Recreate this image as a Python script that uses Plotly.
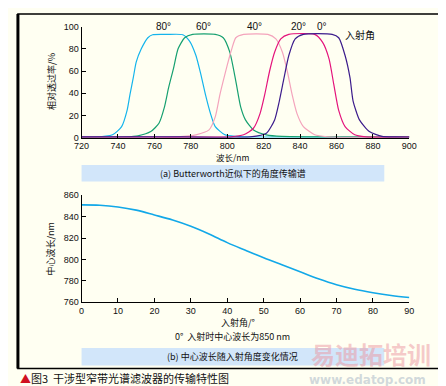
import plotly.graph_objects as go

W, H = 446, 386

# ---- top chart data (wavelength nm, transmission %) ----
wl_80 = [720, 726, 737, 742, 745, 746.6, 748.4, 750, 752.8, 756.4, 759, 767, 775.6, 779.3, 782.8, 785.5, 788, 790.8, 793.4, 798.7, 805, 815, 900]
t_80 = [0.3, 0.3, 2.6, 10, 24.6, 39, 54, 68, 80, 90, 92.7, 93, 92.7, 87, 74, 57, 39, 21.7, 10, 2.6, 1.2, 0.6, 0.4]

wl_60 = [720, 735, 744, 751, 758, 762.5, 765.5, 767.8, 770.5, 773, 776.6, 781, 793.4, 797.8, 801.4, 804.7, 807.4, 810, 814.4, 821.5, 830, 900]
t_60 = [0.2, 0.2, 0.6, 1.7, 5.5, 13, 27.5, 45, 62.5, 80, 90, 93, 93, 90, 77, 51, 27.5, 16, 7, 2.6, 1.2, 0.8]

wl_40 = [720, 770, 782.8, 790, 793.4, 796, 798.7, 801.4, 802.5, 804.7, 809, 822.3, 826.7, 830.3, 833, 835.6, 838.3, 841.8, 848, 855, 900]
t_40 = [0.4, 0.5, 2.6, 7, 18.7, 39, 57, 74, 80, 90, 93, 93, 89, 77, 59.6, 39, 21.7, 10, 2.6, 0.8, 0.4]

wl_20 = [720, 760, 802, 809, 814.4, 818, 820.6, 823.2, 826, 829.4, 833.8, 848, 852.3, 855.9, 858.5, 861.2, 864.7, 870, 876, 900]
t_20 = [0.6, 0.6, 0.8, 2.6, 8.5, 21.7, 39, 59.6, 77, 89, 93, 93, 86, 71, 48, 24.6, 10, 2.6, 0.8, 0.6]

wl_0 = [720, 775, 812.6, 821.5, 826, 828.6, 831.2, 833.8, 837.3, 841.8, 857.6, 861.2, 864.7, 867.4, 869.1, 872.6, 878, 885, 892, 900]
t_0 = [0.7, 0.7, 0.8, 4, 16, 33, 54, 74, 89, 93, 93, 90, 74, 54, 33, 16, 5.5, 1.2, 0.7, 0.6]

# ---- bottom chart data (incidence angle deg, centre wavelength nm) ----
angle = [0, 5, 10, 15, 20, 25, 30, 35, 40, 45, 50, 55, 60, 65, 70, 75, 80, 85, 90]
center_wl = [850.9, 850.6, 849, 846, 841.5, 836.8, 831, 823.8, 815.7, 808.5, 801.5, 795, 788.5, 782, 776.4, 772.2, 769, 766.4, 764.5]

top_xticks = [720, 740, 760, 780, 800, 820, 840, 860, 880, 900]
top_yticks = [0, 20, 40, 60, 80, 100]
bot_xticks = [0, 10, 20, 30, 40, 50, 60, 70, 80, 90]
bot_yticks = [760, 780, 800, 820, 840, 860]

angle_labels = ["80°", "60°", "40°", "20°", "0°"]
angle_label_x = [765, 787, 815, 839, 852]

def px(x):
    return x / W

def py(y):
    return 1 - y / H

fig = go.Figure()
series = [(wl_80, t_80, "#14b4ec"), (wl_60, t_60, "#16a070"), (wl_40, t_40, "#f4a4bc"),
          (wl_20, t_20, "#e4147c"), (wl_0, t_0, "#3c1c8c")]
for xs, ys, c in series:
    fig.add_trace(go.Scatter(x=xs, y=ys, mode="lines", line=dict(color=c, width=1.2, shape="spline", smoothing=0.6),
                             xaxis="x", yaxis="y", showlegend=False, hoverinfo="skip"))
fig.add_trace(go.Scatter(x=angle, y=center_wl, mode="lines", line=dict(color="#12a8e8", width=1.6, shape="spline"),
                         xaxis="x2", yaxis="y2", showlegend=False, hoverinfo="skip"))

tickfont = dict(family="Liberation Sans, Arial", size=9, color="#111")
axcommon = dict(showgrid=False, zeroline=False, showline=True, linecolor="black", linewidth=1,
                ticks="inside", ticklen=4, tickcolor="black", tickfont=tickfont, fixedrange=True)

fig.update_layout(
    width=W, height=H, margin=dict(l=0, r=0, t=0, b=0),
    paper_bgcolor="#fffff2", plot_bgcolor="rgba(0,0,0,0)",
    xaxis=dict(domain=[px(68), px(408)], range=[720, 900], tickvals=top_xticks, anchor="y", **axcommon),
    yaxis=dict(domain=[py(128), py(14)], range=[0, 100], tickvals=top_yticks, anchor="x", **axcommon),
    xaxis2=dict(domain=[px(68), px(408)], range=[0, 90], tickvals=bot_xticks, anchor="y2", **axcommon),
    yaxis2=dict(domain=[py(297), py(187)], range=[760, 860], tickvals=bot_yticks, anchor="x2", **axcommon),
)

shapes = [
    dict(type="rect", xref="paper", yref="paper", x0=px(68), x1=px(382), y0=py(173), y1=py(156),
         fillcolor="#d2e6fa", line=dict(width=0), layer="below"),
    dict(type="rect", xref="paper", yref="paper", x0=px(68), x1=px(382), y0=py(362), y1=py(344),
         fillcolor="#d2e6fa", line=dict(width=0), layer="below"),
    dict(type="rect", xref="paper", yref="paper", x0=px(2), x1=px(443), y0=py(365), y1=py(1),
         line=dict(color="black", width=1.5)),
    dict(type="line", xref="paper", yref="paper", x0=px(2), x1=px(2), y0=py(365), y1=py(1),
         line=dict(color="black", width=3)),
]
fig.update_layout(shapes=shapes)

cjk = "Noto Sans CJK SC"
ann = []

def add(x, y, text, size=9, family=cjk, color="#111", xanchor="center", textangle=0, xref="paper", yref="paper"):
    ann.append(dict(x=x, y=y, xref=xref, yref=yref, text=text, showarrow=False, textangle=textangle,
                    xanchor=xanchor, yanchor="middle", borderpad=0,
                    font=dict(family=family, size=size, color=color)))

for lab, xv in zip(angle_labels, angle_label_x):
    add(xv, 100, lab, size=10, family="Liberation Sans, Arial", xref="x", yref="y")
add(px(357), py(22), "入射角", size=10)
add(px(225), py(148), "波长/nm", size=8.5)
add(px(225), py(164.5), "(a) Butterworth近似下的角度传输谱")
add(px(36), py(70), "相对透过率/%", textangle=-90)
add(px(36), py(242), "中心波长/nm", textangle=-90)
add(px(230), py(318), "入射角/°")
add(px(225), py(332), "0°  入射时中心波长为850 nm")
add(px(225), py(353), "(b) 中心波长随入射角度变化情况")
# watermark
add(px(368), py(350), "<b>易迪拓培训</b>", size=24, color="rgba(235,150,160,0.5)")
add(px(365), py(377), "<b>www.edatop.com</b>", size=12, family="DejaVu Sans", color="rgba(170,185,200,0.55)")
# caption
add(px(3), py(375), "<span style='color:#d01020'>▲</span>图3  干涉型窄带光谱滤波器的传输特性图", size=11, xanchor="left")
fig.update_layout(annotations=ann)

fig.write_html("out.html")
